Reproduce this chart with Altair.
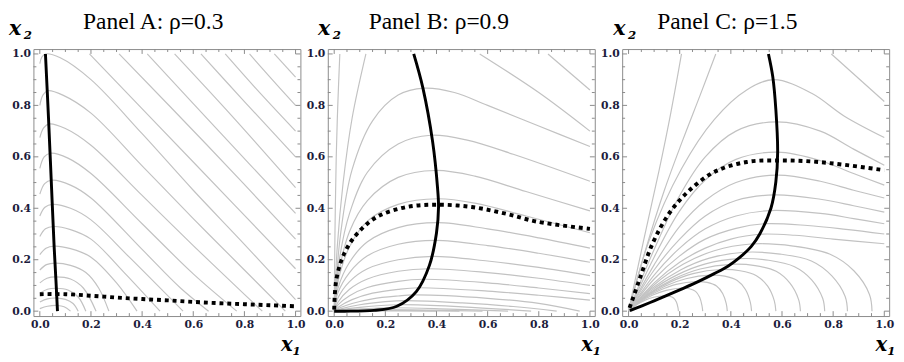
import altair as alt
import pandas as pd

MAJOR = [0.0, 0.2, 0.4, 0.6, 0.8, 1.0]
MINOR = [0.05, 0.1, 0.15, 0.25, 0.3, 0.35, 0.45, 0.5, 0.55, 0.65, 0.7, 0.75, 0.85, 0.9, 0.95]

# ---------------- Panel A (rho = 0.3) ----------------
A_title = "Panel A: ρ=0.3"
A_solid = [[0.022, 1.0], [0.034, 0.75], [0.045, 0.5], [0.056, 0.25], [0.063, 0.12], [0.069, 0.0]]
A_dotted = [[0.0, 0.066], [0.1, 0.066], [0.2, 0.06], [0.3, 0.053], [0.4, 0.047], [0.5, 0.042],
            [0.6, 0.036], [0.7, 0.031], [0.8, 0.027], [0.9, 0.023], [1.0, 0.019]]
A_gray = [
    [[0.0, 0.962], [0.008, 0.988], [0.022, 1.0], [0.08, 0.985], [0.2, 0.9], [0.4, 0.69], [0.6, 0.47], [0.8, 0.26], [1.0, 0.045]],
    [[0.0, 0.8], [0.012, 0.84], [0.031, 0.857], [0.09, 0.84], [0.2, 0.77], [0.4, 0.565], [0.6, 0.36], [0.8, 0.16], [0.96, 0.0]],
    [[0.0, 0.675], [0.015, 0.713], [0.037, 0.728], [0.1, 0.71], [0.2, 0.645], [0.4, 0.45], [0.6, 0.255], [0.8, 0.065], [0.87, 0.0]],
    [[0.0, 0.555], [0.017, 0.6], [0.042, 0.614], [0.11, 0.595], [0.2, 0.535], [0.4, 0.34], [0.6, 0.145], [0.77, 0.0]],
    [[0.0, 0.455], [0.019, 0.496], [0.046, 0.509], [0.12, 0.49], [0.2, 0.44], [0.4, 0.24], [0.55, 0.09], [0.66, 0.0]],
    [[0.0, 0.37], [0.02, 0.404], [0.05, 0.415], [0.12, 0.4], [0.2, 0.355], [0.35, 0.21], [0.56, 0.0]],
    [[0.0, 0.29], [0.022, 0.32], [0.054, 0.329], [0.12, 0.317], [0.2, 0.28], [0.33, 0.15], [0.47, 0.0]],
    [[0.0, 0.22], [0.024, 0.245], [0.057, 0.253], [0.12, 0.243], [0.2, 0.21], [0.3, 0.11], [0.38, 0.0]],
    [[0.0, 0.16], [0.026, 0.181], [0.06, 0.187], [0.12, 0.178], [0.18, 0.15], [0.23, 0.09], [0.27, 0.0]],
    [[0.0, 0.11], [0.028, 0.128], [0.063, 0.133], [0.12, 0.125], [0.17, 0.09], [0.22, 0.0]],
    [[0.0, 0.07], [0.03, 0.085], [0.065, 0.089], [0.11, 0.082], [0.15, 0.055], [0.18, 0.0]],
    [[0.0, 0.036], [0.03, 0.048], [0.067, 0.051], [0.1, 0.046], [0.13, 0.03], [0.15, 0.0]],
    [[0.0, 0.01], [0.03, 0.019], [0.069, 0.022], [0.095, 0.017], [0.12, 0.0]],
    [[0.194, 1.0], [0.6, 0.58], [1.0, 0.165]],
    [[0.31, 1.0], [0.65, 0.65], [1.0, 0.28]],
    [[0.42, 1.0], [0.7, 0.7], [1.0, 0.38]],
    [[0.527, 1.0], [0.75, 0.76], [1.0, 0.48]],
    [[0.63, 1.0], [0.8, 0.815], [1.0, 0.6]],
    [[0.725, 1.0], [0.85, 0.86], [1.0, 0.7]],
    [[0.82, 1.0], [0.9, 0.91], [1.0, 0.8]],
    [[0.917, 1.0], [1.0, 0.91]],
]

# ---------------- Panel B (rho = 0.9) ----------------
B_title = "Panel B: ρ=0.9"
B_solid = [[0.311, 1.0], [0.347, 0.867], [0.385, 0.658], [0.404, 0.481], [0.408, 0.405], [0.4, 0.304],
           [0.372, 0.177], [0.321, 0.076], [0.245, 0.019], [0.156, 0.003], [0.04, 0.0], [0.0, 0.0]]
B_dotted = [[0.0, 0.006], [0.009, 0.127], [0.041, 0.228], [0.092, 0.304], [0.168, 0.367], [0.283, 0.405],
            [0.404, 0.414], [0.538, 0.405], [0.666, 0.38], [0.793, 0.348], [1.0, 0.32]]
B_gray = [
    [[0.0, 0.0], [0.003, 0.3], [0.008, 0.6], [0.014, 0.8], [0.022, 1.0]],
    [[0.0, 0.0], [0.012, 0.25], [0.035, 0.5], [0.07, 0.75], [0.124, 1.0]],
    [[0.836, 1.0], [1.0, 0.86]],
    [[0.569, 1.0], [0.8, 0.85], [1.0, 0.70]],
    [[0.0, 0.0], [0.025, 0.3], [0.07, 0.55], [0.15, 0.74], [0.25, 0.84], [0.352, 0.867], [0.47, 0.85], [0.6, 0.8], [0.8, 0.72], [1.0, 0.64]],
    [[0.0, 0.0], [0.02, 0.2], [0.06, 0.38], [0.13, 0.54], [0.25, 0.65], [0.378, 0.684], [0.52, 0.665], [0.7, 0.61], [1.0, 0.505]],
    [[0.0, 0.0], [0.018, 0.15], [0.06, 0.31], [0.13, 0.43], [0.25, 0.52], [0.395, 0.547], [0.55, 0.525], [0.75, 0.465], [1.0, 0.39]],
    [[0.0, 0.0], [0.016, 0.12], [0.06, 0.25], [0.13, 0.35], [0.25, 0.415], [0.405, 0.437], [0.55, 0.42], [0.75, 0.37], [1.0, 0.305]],
    [[0.0, 0.0], [0.015, 0.09], [0.06, 0.19], [0.13, 0.27], [0.25, 0.325], [0.404, 0.344], [0.6, 0.32], [0.8, 0.285], [1.0, 0.245]],
    [[0.0, 0.0], [0.014, 0.07], [0.06, 0.15], [0.13, 0.215], [0.25, 0.26], [0.397, 0.275], [0.6, 0.255], [0.8, 0.225], [1.0, 0.19]],
    [[0.0, 0.0], [0.014, 0.05], [0.06, 0.115], [0.13, 0.165], [0.25, 0.2], [0.385, 0.213], [0.6, 0.195], [0.8, 0.17], [1.0, 0.138]],
    [[0.0, 0.0], [0.015, 0.035], [0.06, 0.085], [0.13, 0.125], [0.25, 0.155], [0.37, 0.165], [0.6, 0.15], [0.8, 0.128], [1.0, 0.1]],
    [[0.0, 0.0], [0.016, 0.025], [0.06, 0.06], [0.13, 0.092], [0.25, 0.116], [0.35, 0.124], [0.6, 0.11], [0.8, 0.09], [1.0, 0.068]],
    [[0.0, 0.0], [0.02, 0.018], [0.07, 0.045], [0.15, 0.07], [0.25, 0.085], [0.33, 0.091], [0.6, 0.078], [0.8, 0.062], [1.0, 0.043]],
    [[0.0, 0.0], [0.02, 0.012], [0.07, 0.03], [0.15, 0.048], [0.25, 0.059], [0.31, 0.063], [0.6, 0.05], [0.8, 0.03], [0.96, 0.0]],
    [[0.0, 0.0], [0.03, 0.01], [0.1, 0.025], [0.2, 0.037], [0.28, 0.041], [0.5, 0.032], [0.7, 0.018], [0.87, 0.0]],
    [[0.0, 0.0], [0.03, 0.006], [0.1, 0.015], [0.25, 0.025], [0.5, 0.017], [0.77, 0.0]],
    [[0.0, 0.0], [0.05, 0.005], [0.21, 0.013], [0.45, 0.008], [0.68, 0.0]],
    [[0.0, 0.0], [0.1, 0.005], [0.3, 0.005], [0.58, 0.0]],
    [[0.0, 0.0], [0.2, 0.003], [0.49, 0.0]],
    [[0.0, 0.0], [0.2, 0.001], [0.4, 0.0]],
]

# ---------------- Panel C (rho = 1.5) ----------------
C_title = "Panel C: ρ=1.5"
C_solid = [[0.005, 0.002], [0.05, 0.02], [0.1, 0.04], [0.15, 0.061], [0.207, 0.086], [0.27, 0.114],
           [0.335, 0.146], [0.39, 0.176], [0.436, 0.21], [0.48, 0.252], [0.513, 0.3], [0.557, 0.401],
           [0.576, 0.503], [0.583, 0.618], [0.576, 0.783], [0.564, 0.911], [0.547, 1.0]]
C_dotted = [[0.004, 0.013], [0.042, 0.121], [0.093, 0.261], [0.156, 0.376], [0.233, 0.465], [0.335, 0.541],
            [0.462, 0.58], [0.589, 0.586], [0.716, 0.582], [0.844, 0.569], [1.0, 0.548]]
C_gray = [
    [[0.0, 0.0], [0.06, 0.28], [0.12, 0.55], [0.165, 0.77], [0.207, 1.0]],
    [[0.0, 0.0], [0.07, 0.25], [0.14, 0.47], [0.21, 0.66], [0.28, 0.84], [0.341, 1.0]],
    [[0.793, 1.0], [1.0, 0.815]],
    [[0.0, 0.0], [0.08, 0.274], [0.207, 0.554], [0.335, 0.745], [0.462, 0.86], [0.568, 0.9], [0.716, 0.847], [0.844, 0.758], [1.0, 0.675]],
    [[0.0, 0.0], [0.1, 0.24], [0.2, 0.45], [0.3, 0.6], [0.42, 0.7], [0.578, 0.736], [0.75, 0.7], [0.88, 0.63], [1.0, 0.567]],
    [[0.0, 0.0], [0.1, 0.21], [0.2, 0.39], [0.3, 0.51], [0.42, 0.59], [0.583, 0.618], [0.75, 0.585], [0.88, 0.535], [1.0, 0.49]],
    [[0.0, 0.0], [0.1, 0.18], [0.2, 0.33], [0.3, 0.43], [0.42, 0.5], [0.58, 0.529], [0.75, 0.505], [0.88, 0.47], [1.0, 0.44]],
    [[0.0, 0.0], [0.1, 0.16], [0.2, 0.28], [0.3, 0.37], [0.42, 0.43], [0.57, 0.452], [0.75, 0.435], [0.88, 0.41], [1.0, 0.385]],
    [[0.0, 0.0], [0.1, 0.14], [0.2, 0.245], [0.3, 0.32], [0.42, 0.37], [0.553, 0.391], [0.75, 0.38], [0.88, 0.36], [1.0, 0.34]],
    [[0.0, 0.0], [0.1, 0.125], [0.2, 0.215], [0.3, 0.28], [0.42, 0.322], [0.533, 0.34], [0.7, 0.333], [0.85, 0.318], [1.0, 0.3]],
    [[0.0, 0.0], [0.1, 0.11], [0.2, 0.19], [0.3, 0.245], [0.4, 0.28], [0.513, 0.299], [0.65, 0.295], [0.8, 0.28], [1.0, 0.262]],
    [[0.0, 0.0], [0.096, 0.099], [0.215, 0.183], [0.335, 0.235], [0.478, 0.261], [0.644, 0.253], [0.786, 0.222], [0.881, 0.157], [0.942, 0.065], [0.952, 0.0]],
    [[0.0, 0.0], [0.09, 0.087], [0.203, 0.16], [0.316, 0.206], [0.452, 0.229], [0.593, 0.222], [0.715, 0.195], [0.795, 0.137], [0.847, 0.057], [0.856, 0.0]],
    [[0.0, 0.0], [0.086, 0.078], [0.194, 0.143], [0.301, 0.184], [0.43, 0.204], [0.548, 0.198], [0.649, 0.173], [0.716, 0.122], [0.759, 0.05], [0.767, 0.0]],
    [[0.0, 0.0], [0.08, 0.069], [0.18, 0.127], [0.28, 0.164], [0.4, 0.182], [0.495, 0.177], [0.577, 0.155], [0.631, 0.109], [0.665, 0.045], [0.672, 0.0]],
    [[0.0, 0.0], [0.072, 0.062], [0.162, 0.113], [0.252, 0.146], [0.36, 0.162], [0.436, 0.157], [0.5, 0.138], [0.544, 0.097], [0.57, 0.04], [0.576, 0.0]],
    [[0.0, 0.0], [0.064, 0.053], [0.144, 0.098], [0.224, 0.126], [0.32, 0.14], [0.376, 0.136], [0.425, 0.119], [0.457, 0.084], [0.476, 0.035], [0.481, 0.0]],
    [[0.0, 0.0], [0.053, 0.044], [0.12, 0.08], [0.186, 0.104], [0.265, 0.115], [0.307, 0.112], [0.344, 0.098], [0.368, 0.069], [0.382, 0.029], [0.386, 0.0]],
    [[0.0, 0.0], [0.042, 0.034], [0.095, 0.063], [0.147, 0.081], [0.21, 0.09], [0.238, 0.087], [0.262, 0.077], [0.278, 0.054], [0.287, 0.022], [0.29, 0.0]],
    [[0.0, 0.0], [0.028, 0.023], [0.063, 0.042], [0.098, 0.054], [0.14, 0.06], [0.16, 0.058], [0.176, 0.051], [0.187, 0.036], [0.193, 0.015], [0.195, 0.0]],
]

W, H = 273, 273
XS = alt.Scale(domain=[-0.025, 1.019], nice=False, zero=False)
YS = alt.Scale(domain=[-0.019, 1.019], nice=False, zero=False)
LABEL_COLOR = "#1c1c3c"
FRAME_COLOR = "#8a8a8a"
GRAY = "#c2c2c2"


def axis_x():
    return alt.Axis(values=MAJOR, format=".1f", title=None, grid=False, ticks=False, domain=False,
                    labelFont="DejaVu Serif", labelFontWeight="bold", labelFontSize=11,
                    labelColor=LABEL_COLOR, labelPadding=3)


def axis_y():
    return alt.Axis(values=MAJOR, format=".1f", title=None, grid=False, ticks=False, domain=False,
                    labelFont="DejaVu Serif", labelFontWeight="bold", labelFontSize=11,
                    labelColor=LABEL_COLOR, labelPadding=3)


def curves_frame(curves):
    rows = []
    for ci, pts in enumerate(curves):
        for oi, (x, y) in enumerate(pts):
            rows.append({"c": ci, "o": oi, "x": x, "y": y})
    return pd.DataFrame(rows)


def tick_layers():
    layers = []
    for vals, ln in ((MAJOR, 5), (MINOR, 3)):
        tx = pd.DataFrame({"x": vals})
        ty = pd.DataFrame({"y": vals})
        xe = alt.X("x:Q", scale=XS, axis=axis_x())
        ye = alt.Y("y:Q", scale=YS, axis=axis_y())
        layers.append(alt.Chart(tx).mark_rule(color=FRAME_COLOR, strokeWidth=1).encode(
            x=xe, y=alt.value(H), y2=alt.value(H - ln)))
        layers.append(alt.Chart(tx).mark_rule(color=FRAME_COLOR, strokeWidth=1).encode(
            x=xe, y=alt.value(0), y2=alt.value(ln)))
        layers.append(alt.Chart(ty).mark_rule(color=FRAME_COLOR, strokeWidth=1).encode(
            y=ye, x=alt.value(0), x2=alt.value(ln)))
        layers.append(alt.Chart(ty).mark_rule(color=FRAME_COLOR, strokeWidth=1).encode(
            y=ye, x=alt.value(W), x2=alt.value(W - ln)))
    return layers


def text_layer(txt, x, y, font, size, weight="normal", style="normal", align="center"):
    return alt.Chart(pd.DataFrame({"t": [txt]})).mark_text(
        font=font, fontSize=size, fontWeight=weight, fontStyle=style, align=align,
        baseline="alphabetic", color="black").encode(x=alt.value(x), y=alt.value(y), text="t:N")


def panel(gray, solid, dotted, title, title_dx, x2_dx, x1_dx):
    xe = alt.X("x:Q", scale=XS, axis=axis_x())
    ye = alt.Y("y:Q", scale=YS, axis=axis_y())
    g = alt.Chart(curves_frame(gray)).mark_line(
        color=GRAY, strokeWidth=1.2, interpolate="catmull-rom", clip=True).encode(
        x=xe, y=ye, detail="c:N", order="o:Q")
    s = alt.Chart(curves_frame([solid])).mark_line(
        color="black", strokeWidth=3, interpolate="catmull-rom", clip=True).encode(
        x=xe, y=ye, order="o:Q")
    d = alt.Chart(curves_frame([dotted])).mark_line(
        color="black", strokeWidth=4, strokeDash=[4, 4], strokeCap="butt",
        interpolate="catmull-rom", clip=True).encode(x=xe, y=ye, order="o:Q")
    texts = [
        text_layer(title, W / 2 + title_dx, -21, "Liberation Serif", 24),
        text_layer("x", x2_dx, -14, "DejaVu Serif", 21, "bold", "italic", "left"),
        text_layer("2", x2_dx + 15, -10, "DejaVu Serif", 12, "bold", "italic", "left"),
        text_layer("x", W + x1_dx - 7, H + 36, "DejaVu Serif", 20, "bold", "italic", "right"),
        text_layer("1", W + x1_dx - 7, H + 40, "DejaVu Serif", 12, "bold", "italic", "left"),
    ]
    return alt.layer(g, *tick_layers(), s, d, *texts).properties(width=W, height=H)


pA = panel(A_gray, A_solid, A_dotted, A_title, -14, -25, -1)
pB = panel(B_gray, B_solid, B_dotted, B_title, -23, -10, 5)
pC = panel(C_gray, C_solid, C_dotted, C_title, -29, -9, 5)

chart = alt.HConcatChart(hconcat=[pA, pB, pC], spacing=28, bounds="flush").properties(
    padding={"left": 0, "top": -3, "right": 0, "bottom": 0}
).configure_view(stroke=FRAME_COLOR, strokeWidth=1)

chart.save("out.html", embed_options={"renderer": "svg", "actions": False})
